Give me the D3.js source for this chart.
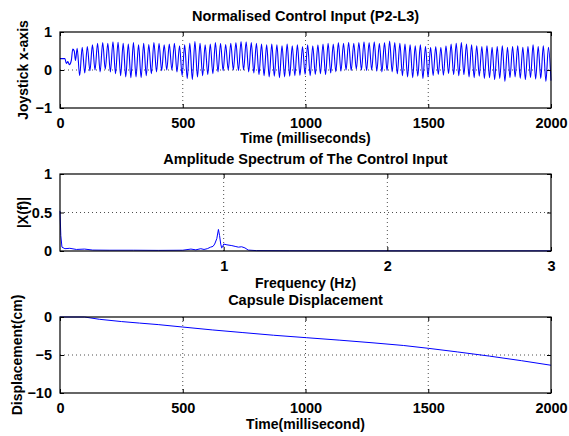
<!DOCTYPE html>
<html><head><meta charset="utf-8">
<script src="https://cdn.jsdelivr.net/npm/d3@7/dist/d3.min.js"></script>
<style>
html,body{margin:0;padding:0;background:#fff;}
svg text{font-family:"Liberation Sans",Arial,Helvetica,sans-serif;font-weight:bold;fill:#000;}
</style></head>
<body><svg id="c" width="569" height="436"></svg>
<script>
// ---------- DATA ----------
// Panel 1: normalised joystick x-axis signal
const startupTimes  = [0, 20, 26, 32, 38, 46, 52, 58, 63, 70];
const startupValues = [0.3, 0.3, 0.17, 0.22, 0.14, 0.25, 0.55, 0.5, 0.25, 0.57];
const cycleStart = 80;      // ms, first trough
const cyclePeriod = 20.87;  // ms per oscillation
const peakValues = [
  0.6, 0.62, 0.66, 0.7, 0.72, 0.7, 0.74, 0.73, 0.7, 0.68,
  0.72, 0.66, 0.7, 0.67, 0.72, 0.7, 0.66, 0.68, 0.7, 0.64,
  0.66, 0.7, 0.75, 0.7, 0.66, 0.68, 0.72, 0.7, 0.67, 0.7,
  0.72, 0.75, 0.74, 0.72, 0.7, 0.68, 0.66, 0.68, 0.66, 0.64,
  0.68, 0.64, 0.66, 0.62, 0.66, 0.64, 0.66, 0.68, 0.7, 0.68,
  0.72, 0.7, 0.73, 0.7, 0.72, 0.74, 0.72, 0.74, 0.7, 0.72,
  0.76, 0.72, 0.7, 0.68, 0.66, 0.64, 0.66, 0.62, 0.6, 0.62,
  0.6, 0.64, 0.68, 0.7, 0.72, 0.68, 0.66, 0.64, 0.62, 0.64,
  0.6, 0.62, 0.64, 0.6, 0.62, 0.64, 0.6, 0.62, 0.66, 0.62,
  0.64, 0.6
];
const troughValues = [
  -0.15, -0.08, -0.02, 0.0, -0.05, 0.02, -0.05, -0.1, -0.15, -0.18,
  -0.2, -0.18, -0.2, -0.15, -0.1, -0.05, -0.02, 0.0, 0.0, -0.05,
  -0.15, -0.22, -0.25, -0.18, -0.15, -0.12, -0.1, -0.05, -0.02, 0.0,
  0.0, -0.02, 0.0, -0.05, -0.08, -0.12, -0.15, -0.18, -0.16, -0.2,
  -0.18, -0.16, -0.15, -0.14, -0.12, -0.15, -0.12, -0.1, -0.12, -0.08,
  -0.05, -0.03, 0.0, -0.02, 0.02, 0.0, -0.02, 0.0, -0.03, -0.05,
  -0.02, -0.05, -0.1, -0.15, -0.18, -0.2, -0.16, -0.22, -0.18, -0.15,
  -0.12, -0.14, -0.1, -0.12, -0.15, -0.12, -0.18, -0.2, -0.16, -0.22,
  -0.2, -0.25, -0.22, -0.3, -0.2, -0.18, -0.22, -0.25, -0.2, -0.24,
  -0.22, -0.3, -0.28
];
const timeTicks = [0, 500, 1000, 1500, 2000];
const joyTicks = [-1, 0, 1];

// Panel 2: amplitude spectrum
const freqHz = [0, 0.005, 0.012, 0.03, 0.06, 0.1, 0.15, 0.2, 0.3, 0.45, 0.6, 0.75, 0.8, 0.83, 0.86, 0.88, 0.9, 0.92, 0.935, 0.945, 0.958, 0.968, 0.975, 0.982, 0.988, 0.993, 1.0, 1.02, 1.05, 1.07, 1.09, 1.11, 1.13, 1.15, 1.2, 1.4, 2.0, 3.0];
const amplitude = [0.52, 0.2, 0.05, 0.03, 0.035, 0.02, 0.025, 0.012, 0.01, 0.01, 0.008, 0.01, 0.025, 0.015, 0.03, 0.02, 0.03, 0.05, 0.06, 0.09, 0.16, 0.28, 0.2, 0.09, 0.04, 0.05, 0.09, 0.08, 0.07, 0.06, 0.05, 0.055, 0.04, 0.012, 0.005, 0.003, 0.002, 0.002];
const freqTicks = [1, 2, 3];
const ampTicks = [0, 0.5, 1];

// Panel 3: capsule displacement
const dispTimes  = [0, 100, 160, 250, 324, 400, 500, 620, 745, 870, 1003, 1140, 1275, 1400, 1500, 1620, 1750, 1880, 2000];
const dispValues = [0, 0, -0.3, -0.6, -0.8, -1.0, -1.32, -1.7, -2.05, -2.4, -2.72, -3.05, -3.4, -3.75, -4.12, -4.6, -5.15, -5.75, -6.35];
const dispTicks = [-10, -5, 0];

// ---------- DRAW ----------
const svg = d3.select("#c");
const L = 60, R = 551;
const FS_TICK = 14.5, FS_TITLE = 14.5, FS_LABEL = 14;

function panel(o) {
  const x = d3.scaleLinear().domain(o.xd).range([L, R]);
  const y = d3.scaleLinear().domain(o.yd).range([o.bottom, o.top]);
  const g = svg.append("g");
  // grid
  o.xGrid.forEach(v => g.append("line").attr("x1", x(v)).attr("x2", x(v)).attr("y1", o.top).attr("y2", o.bottom)
    .attr("stroke", "#222").attr("stroke-width", 0.8).attr("stroke-dasharray", "1,3"));
  o.yGrid.forEach(v => g.append("line").attr("x1", L).attr("x2", R).attr("y1", y(v)).attr("y2", y(v))
    .attr("stroke", "#222").attr("stroke-width", 0.8).attr("stroke-dasharray", "1,3"));
  // data
  g.append("path").datum(o.data).attr("fill", "none").attr("stroke", "#0000ff").attr("stroke-width", o.lw || 1)
    .attr("d", d3.line().x(d => x(d[0])).y(d => y(d[1])).curve(o.curve || d3.curveLinear));
  // axes (inward ticks, labels)
  const ax = d3.axisBottom(x).tickValues(o.xTicks).tickSize(-4).tickPadding(10).tickFormat(d3.format("~g"));
  const axT = d3.axisTop(x).tickValues(o.xTicks).tickSize(-4).tickFormat("");
  const ay = d3.axisLeft(y).tickValues(o.yTicks).tickSize(-4).tickPadding(8).tickFormat(d3.format("~g"));
  const ayR = d3.axisRight(y).tickValues(o.yTicks).tickSize(-4).tickFormat("");
  g.append("g").attr("transform", `translate(0,${o.bottom})`).call(ax);
  g.append("g").attr("transform", `translate(0,${o.top})`).call(axT);
  g.append("g").attr("transform", `translate(${L},0)`).call(ay);
  g.append("g").attr("transform", `translate(${R},0)`).call(ayR);
  g.selectAll(".domain").remove();
  g.selectAll(".tick line").attr("stroke", "#000");
  g.selectAll(".tick text").attr("font-size", FS_TICK).style("font-family", '"Liberation Sans",Arial,sans-serif').style("font-weight", "bold");
  // box
  g.append("rect").attr("x", L).attr("y", o.top).attr("width", R - L).attr("height", o.bottom - o.top)
    .attr("fill", "none").attr("stroke", "#000").attr("stroke-width", 1.2);
  // titles
  g.append("text").attr("x", (L + R) / 2).attr("y", o.titleY).attr("text-anchor", "middle").attr("font-size", FS_TITLE).text(o.title);
  g.append("text").attr("x", (L + R) / 2).attr("y", o.xLabelY).attr("text-anchor", "middle").attr("font-size", FS_LABEL).text(o.xLabel);
  g.append("text").attr("transform", `translate(${o.yLabelX},${(o.top + o.bottom) / 2}) rotate(-90)`)
    .attr("text-anchor", "middle").attr("font-size", FS_LABEL).text(o.yLabel);
}

// build signal points
const signal = startupTimes.map((t, i) => [t, startupValues[i]]);
troughValues.forEach((v, i) => {
  signal.push([Math.min(2000, cycleStart + i * cyclePeriod), v]);
  if (i < peakValues.length) signal.push([cycleStart + (i + 0.5) * cyclePeriod, peakValues[i]]);
});

panel({
  xd: [0, 2000], yd: [-1, 1], top: 32, bottom: 108,
  data: signal, curve: d3.curveMonotoneX, lw: 1.1,
  xTicks: timeTicks, yTicks: joyTicks, xGrid: [500, 1000, 1500], yGrid: [0],
  title: "Normalised Control Input (P2-L3)", titleY: 21,
  xLabel: "Time (milliseconds)", xLabelY: 143,
  yLabel: "Joystick x-axis", yLabelX: 28
});

panel({
  xd: [0, 3], yd: [0, 1], top: 174, bottom: 251,
  data: freqHz.map((f, i) => [f, amplitude[i]]),
  xTicks: freqTicks, yTicks: ampTicks, xGrid: [1, 2], yGrid: [0.5],
  title: "Amplitude Spectrum of The Control Input", titleY: 164,
  xLabel: "Frequency (Hz)", xLabelY: 288,
  yLabel: "|X(f)|", yLabelX: 28
});

panel({
  xd: [0, 2000], yd: [-10, 0], top: 317, bottom: 393,
  data: dispTimes.map((t, i) => [t, dispValues[i]]),
  xTicks: timeTicks, yTicks: dispTicks, xGrid: [500, 1000, 1500], yGrid: [-5],
  title: "Capsule Displacement", titleY: 305,
  xLabel: "Time(millisecond)", xLabelY: 429,
  yLabel: "Displacement(cm)", yLabelX: 22
});
</script></body></html>
